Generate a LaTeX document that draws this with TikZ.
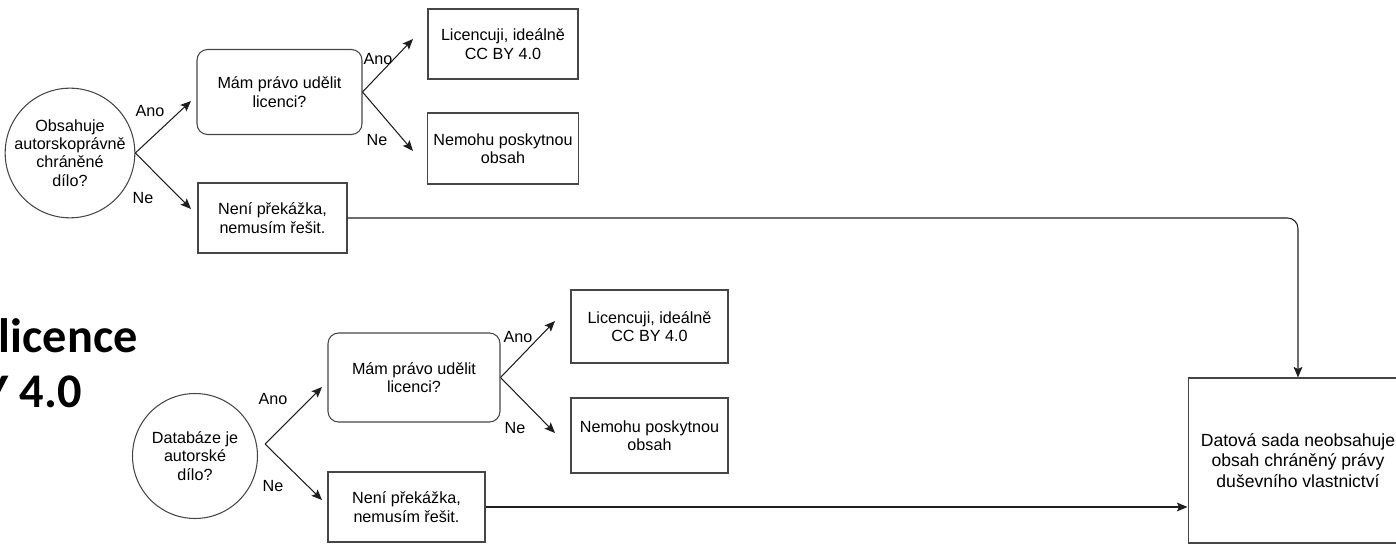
\documentclass[tikz,border=0pt]{standalone}
\usepackage{fontspec}
\setmainfont{Liberation Sans}
\newfontfamily\titlefont{Carlito}
\usepackage{tikz}
\usetikzlibrary{arrows.meta}
\definecolor{mydark}{RGB}{30,30,30}
\definecolor{myframe}{RGB}{70,70,70}
\newcommand{\boxfont}{\fontsize{9.2}{10.4}\selectfont}
\tikzset{
  decision/.style={circle, draw=myframe, minimum size=2.5cm, inner sep=0pt,
    align=center, font=\boxfont, line width=0.6pt},
  question/.style={rectangle, draw=myframe, rounded corners=6pt,
    minimum width=3.3cm, minimum height=1.7cm, align=center,
    font=\boxfont, line width=0.6pt},
  outcome/.style={rectangle, draw=myframe, minimum width=3cm,
    minimum height=1.4cm, align=center, font=\boxfont, line width=0.6pt},
  bigbox/.style={rectangle, draw=myframe, minimum width=4.4cm,
    minimum height=3.3cm, align=center,
    font=\fontsize{10}{11.5}\selectfont, line width=0.6pt},
  answer/.style={font=\boxfont, inner sep=0pt},
  titletext/.style={font=\titlefont\bfseries\fontsize{27.5}{32}\selectfont,
    inner sep=0pt, anchor=base east},
  arrow/.style={-{Stealth[length=6pt, width=5pt, inset=1.2pt]},
    line width=0.6pt, color=mydark}
}
\begin{document}
\begin{tikzpicture}[x=0.02cm, y=-0.02cm]
  \useasboundingbox (0,0) rectangle (1396,544);
  % title, cut by the left edge
  \node[titletext] (ttl1) at (138,352) {licence};
  \node[titletext] (ttl2) at (82,407) {Y 4.0};

  % upper tree
  \node[decision, minimum size=2.56cm] (q1) at (70,153)
    {Obsahuje\\autorskoprávně\\chráněné\\dílo?};
  \node[question] (r1) at (279.5,92) {Mám právo udělit\\licenci?};
  \node[outcome] (lic1) at (503,44) {Licencuji, ideálně\\CC BY 4.0};
  \node[outcome, minimum height=1.42cm] (nem1) at (503,148.5)
    {Nemohu poskytnou\\obsah};
  \node[outcome, minimum width=2.98cm] (ok1) at (272.5,218)
    {Není překážka,\\nemusím řešit.};
  \coordinate (q1a) at (191,101);
  \coordinate (q1n) at (191,209);
  \draw[arrow] (q1.east) -- (q1a);
  \draw[arrow] (q1.east) -- (q1n);
  \node[answer] (a1) at (150,111) {Ano};
  \node[answer] (n1) at (143,198) {Ne};
  \coordinate (r1a) at (413,39);
  \coordinate (r1n) at (413,151);
  \draw[arrow] (r1.east) -- (r1a);
  \draw[arrow] (r1.east) -- (r1n);
  \node[answer] (a2) at (378,59) {Ano};
  \node[answer] (n2) at (377,140) {Ne};

  % lower tree
  \node[decision] (q2) at (195,456) {Databáze je\\autorské\\dílo?};
  \node[question, minimum width=3.44cm, minimum height=1.78cm] (r2)
    at (414,377.5) {Mám právo udělit\\licenci?};
  \node[outcome, minimum width=3.14cm, minimum height=1.46cm] (lic2)
    at (649.5,326.5) {Licencuji, ideálně\\CC BY 4.0};
  \node[outcome, minimum width=3.14cm, minimum height=1.5cm] (nem2)
    at (649.5,435.5) {Nemohu poskytnou\\obsah};
  \node[outcome, minimum width=3.14cm] (ok2) at (406.5,507)
    {Není překážka,\\nemusím řešit.};
  \coordinate (q2o) at ([shift={(7,-12)}]q2.east);
  \coordinate (q2a) at (322,387);
  \coordinate (q2n) at (322,500);
  \draw[arrow] (q2o) -- (q2a);
  \draw[arrow] (q2o) -- (q2n);
  \node[answer] (a3) at (273,399) {Ano};
  \node[answer] (n3) at (273,486) {Ne};
  \coordinate (r2a) at (555,321);
  \coordinate (r2n) at (555,433);
  \draw[arrow] (r2.east) -- (r2a);
  \draw[arrow] (r2.east) -- (r2n);
  \node[answer] (a4) at (518,337) {Ano};
  \node[answer] (n4) at (515,428) {Ne};

  % common result
  \node[bigbox] (big) at (1298,460.5)
    {Datová sada neobsahuje\\obsah chráněný právy\\duševního vlastnictví};
  \draw[arrow, rounded corners=6pt] (ok1.east) -| (big.north);
  \draw[arrow] (ok2.east) -- (ok2.east -| big.west);
\end{tikzpicture}
\end{document}
